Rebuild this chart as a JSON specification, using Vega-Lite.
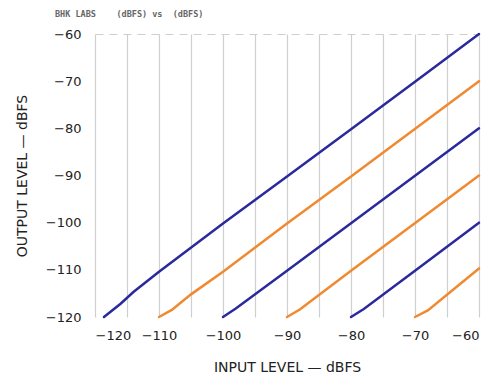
{
  "$schema": "https://vega.github.io/schema/vega-lite/v6.json",
  "width": 384,
  "height": 283,
  "autosize": {"type": "none"},
  "padding": {"left": 95, "top": 34, "right": 12, "bottom": 56},
  "background": "white",
  "title": {"text": "BHK LABS\u00a0\u00a0\u00a0\u00a0(dBFS) vs\u00a0\u00a0(dBFS)", "anchor": "start", "frame": "group", "dx": -40, "fontSize": 8.5, "font": "DejaVu Sans Mono", "fontWeight": "bold", "color": "#666", "offset": 10},
  "config": {"view": {"stroke": null}},
  "data": {"values": [
    {"series": "a", "x": -118.6, "y": -120},
    {"series": "a", "x": -116, "y": -117.2},
    {"series": "a", "x": -114, "y": -114.7},
    {"series": "a", "x": -110, "y": -110.4},
    {"series": "a", "x": -100, "y": -100.2},
    {"series": "a", "x": -90, "y": -90.2},
    {"series": "a", "x": -80, "y": -80.2},
    {"series": "a", "x": -70, "y": -70.1},
    {"series": "a", "x": -60, "y": -60},
    {"series": "b", "x": -110, "y": -120},
    {"series": "b", "x": -108, "y": -118.5},
    {"series": "b", "x": -105, "y": -115.2},
    {"series": "b", "x": -100, "y": -110.4},
    {"series": "b", "x": -90, "y": -100.2},
    {"series": "b", "x": -80, "y": -90.2},
    {"series": "b", "x": -60, "y": -70},
    {"series": "c", "x": -100, "y": -120},
    {"series": "c", "x": -98, "y": -118.2},
    {"series": "c", "x": -90, "y": -110.2},
    {"series": "c", "x": -60, "y": -80},
    {"series": "d", "x": -90, "y": -120},
    {"series": "d", "x": -88, "y": -118.4},
    {"series": "d", "x": -80, "y": -110.2},
    {"series": "d", "x": -60, "y": -90},
    {"series": "e", "x": -80, "y": -120},
    {"series": "e", "x": -78, "y": -118.3},
    {"series": "e", "x": -70, "y": -110.2},
    {"series": "e", "x": -60, "y": -100},
    {"series": "f", "x": -70, "y": -120},
    {"series": "f", "x": -68, "y": -118.6},
    {"series": "f", "x": -60, "y": -109.7}
  ]},
  "mark": {"type": "line", "strokeWidth": 2.5, "strokeCap": "round"},
  "encoding": {
    "x": {"field": "x", "type": "quantitative",
      "scale": {"domain": [-120, -60], "nice": false, "zero": false},
      "axis": {"values": [-120,-115,-110,-105,-100,-95,-90,-85,-80,-75,-70,-65,-60],
        "labelExpr": "datum.value % 10 == 0 ? replace(format(datum.value, 'd'), '-', '\u2212\u2009') : ''",
        "grid": true, "gridColor": "#cfcfcf", "gridWidth": 1.2, "domain": false, "ticks": false,
        "labelFont": "DejaVu Sans", "labelFontSize": 13, "labelColor": "#222", "labelPadding": 12,
        "title": "INPUT\u00a0LEVEL\u00a0\u2014\u00a0dBFS", "titleFont": "DejaVu Sans", "titleFontSize": 14, "titleFontWeight": "normal", "titleColor": "#222", "titlePadding": 18}},
    "y": {"field": "y", "type": "quantitative",
      "scale": {"domain": [-120, -60], "nice": false, "zero": false},
      "axis": {"values": [-120,-110,-100,-90,-80,-70,-60],
        "labelExpr": "replace(format(datum.value, 'd'), '-', '\u2212\u2009')",
        "grid": true, "gridColor": "#cfcfcf", "gridDash": [8, 6], "gridWidth": 1.2,
        "gridOpacity": {"condition": {"test": "datum.value == -60", "value": 1}, "value": 0},
        "domain": false, "ticks": false,
        "labelFont": "DejaVu Sans", "labelFontSize": 13, "labelColor": "#222", "labelPadding": 14,
        "title": "OUTPUT\u00a0LEVEL\u00a0\u2014\u00a0dBFS", "titleFont": "DejaVu Sans", "titleFontSize": 14, "titleFontWeight": "normal", "titleColor": "#222", "titlePadding": 16}},
    "color": {"field": "series", "type": "nominal", "legend": null,
      "scale": {"domain": ["a","b","c","d","e","f"], "range": ["#2a2a9c", "#f08a30", "#2a2a9c", "#f08a30", "#2a2a9c", "#f08a30"]}}
  }
}
